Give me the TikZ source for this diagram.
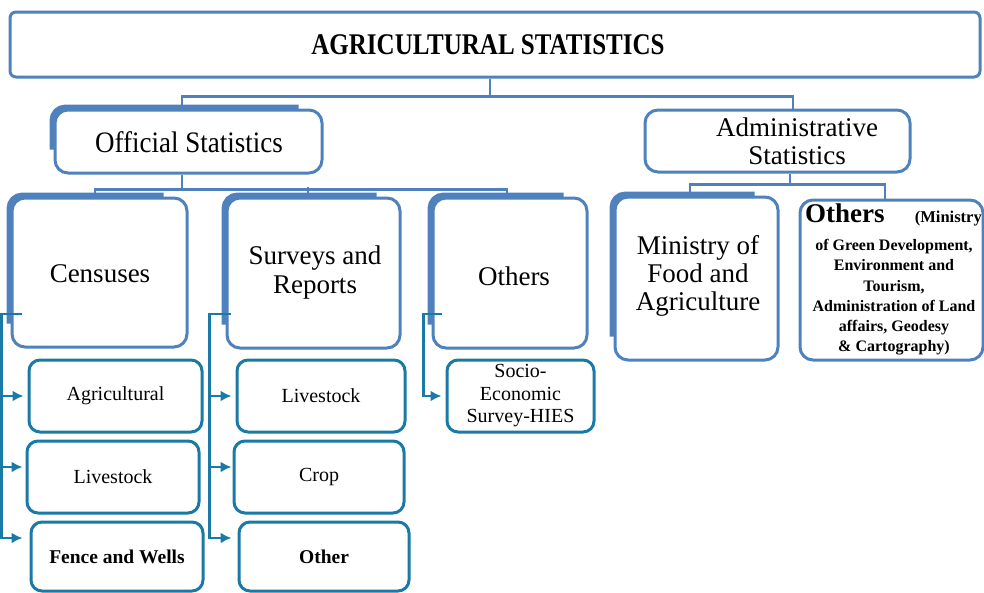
\documentclass[tikz,border=0pt]{standalone}
\usepackage{fontspec}
\setmainfont{Liberation Serif}
\usetikzlibrary{arrows.meta,calc}
\definecolor{bbl}{HTML}{4F81BD}
\definecolor{tl}{HTML}{1B79A5}
\newcommand\fs[2]{\fontsize{#1pt}{#2pt}\selectfont}
\tikzset{
 topbox/.style={draw=bbl, line width=3pt, rounded corners=6pt, fill=white, inner sep=0pt},
 bigbox/.style={draw=bbl, line width=3pt, rounded corners=13pt, fill=white, inner sep=0pt, align=center},
 smallbox/.style={draw=tl, line width=3pt, rounded corners=11pt, fill=white, inner sep=0pt, align=center, font=\fs{20}{22.5}},
 bentline/.style={draw=bbl, line width=5.5pt, rounded corners=13pt},
 conn/.style={draw=bbl, line width=2.5pt},
 tconn/.style={draw=tl, line width=2.5pt},
 tarr/.style={tconn, -{Latex[length=11pt,width=11pt]}},
 txt/.style={inner sep=0pt, align=center},
}
\newcommand\bentedge[1]{\draw[bentline] ([xshift=-1.2pt,yshift=25pt]#1.south west) -- ([xshift=-1.2pt,yshift=1.2pt]#1.north west) -- ([xshift=-25pt,yshift=1.2pt]#1.north east);}
\begin{document}
\begin{tikzpicture}[x=1pt,y=-1pt]
\useasboundingbox (0,0) rectangle (984,592);
% top level
\node[topbox, minimum width=970pt, minimum height=65pt] (top) at (495,44.5) {};
\node[txt, font=\bfseries\fs{25}{25}] (toptxt) at (488,45) {\scalebox{1}[1.2]{AGRICULTURAL STATISTICS}};
% second level
\node[bigbox, minimum width=267pt, minimum height=63pt] (off) at (188.5,141.5) {};
\node[txt, font=\fs{27}{28}] (offtxt) at (189,142) {\scalebox{1}[1.1]{Official Statistics}};
\node[bigbox, minimum width=265pt, minimum height=62pt] (adm) at (777.5,141) {};
\node[txt, font=\fs{27}{28}] (admtxt) at (797,141) {Administrative\\Statistics};
% third level
\node[bigbox, minimum width=175pt, minimum height=149pt] (cen) at (99.5,272.5) {};
\node[txt, font=\fs{27}{29}] (centxt) at (100,274) {Censuses};
\node[bigbox, minimum width=173pt, minimum height=150pt] (sur) at (313.5,273) {};
\node[txt, font=\fs{27}{29}] (surtxt) at (315,273) {Surveys and\\Reports};
\node[bigbox, minimum width=154pt, minimum height=150pt] (oth) at (510,273) {};
\node[txt, font=\fs{27}{29}] (othtxt) at (514,276) {Others};
\node[bigbox, minimum width=163pt, minimum height=163pt] (min) at (696.5,278.5) {};
\node[txt, font=\fs{27}{28}] (mintxt) at (698,276) {Ministry of\\Food and\\Agriculture};
\node[bigbox, minimum width=183pt, minimum height=160pt] (oth2) at (891.5,280) {};
\node[txt, font=\bfseries\fs{27}{27}, anchor=base west] (o2a) at (805,222) {Others};
\node[txt, font=\bfseries\fs{16.5}{16}, anchor=base east] (o2b) at (982,222) {(Ministry};
\node[txt, font=\bfseries\fs{16}{20.3}, anchor=north] (o2c) at (894,239) {of Green Development,\\Environment and\\Tourism,\\Administration of Land\\affairs, Geodesy\\\& Cartography)};
\bentedge{off}
\bentedge{cen}
\bentedge{sur}
\bentedge{oth}
\bentedge{min}
% small boxes
\node[smallbox, minimum width=173pt, minimum height=72pt] (agr) at (115.5,396) {Agricultural};
\node[smallbox, minimum width=172pt, minimum height=72pt] (liv1) at (113,477) {Livestock};
\node[smallbox, minimum width=172pt, minimum height=69pt, font=\bfseries\fs{19.5}{22}] (fen) at (117,556.5) {Fence and Wells};
\node[smallbox, minimum width=168pt, minimum height=72pt] (liv2) at (321,396) {Livestock};
\node[smallbox, minimum width=170pt, minimum height=72pt] (crop) at (319,477) {Crop};
\node[smallbox, minimum width=170pt, minimum height=69pt, font=\bfseries\fs{19.5}{22}] (oth3) at (324,556.5) {Other};
\node[smallbox, minimum width=147pt, minimum height=72pt] (soc) at (520.5,396) {Socio-\\Economic\\Survey-HIES};
% blue connectors
\draw[conn] ([xshift=-5pt]top.south) -- ++(0,18) coordinate (j1);
\draw[conn] ([xshift=-6.5pt]off.north) |- (j1) -| ([xshift=15.5pt]adm.north);
\draw[conn] ([xshift=-6.5pt]off.south) -- ++(0,15) coordinate (j2);
\draw[conn] ([xshift=-4.5pt]cen.north) |- (j2) -| ([xshift=-3pt]oth.north);
\draw[conn] ([xshift=-5.5pt]sur.north) -- ++(0,-10);
\draw[conn] ([xshift=12.5pt]adm.south) -- ++(0,11) coordinate (j3);
\draw[conn] ([xshift=-6.5pt]min.north) |- (j3) -| ([xshift=-6.5pt]oth2.north);
% teal arrows: censuses
\coordinate (c0) at ([xshift=11pt,yshift=-41.5pt]cen.west);
\coordinate (cv) at ([xshift=-20pt]c0);
\coordinate (a1) at ([xshift=-4pt]agr.west);
\coordinate (a2) at ([xshift=-3pt,yshift=10pt]liv1.west);
\coordinate (a3) at ([xshift=-7pt,yshift=18.5pt]fen.west);
\draw[tarr] (c0) -- (cv) |- (a3);
\draw[tarr] (cv |- a1) -- (a1);
\draw[tarr] (cv |- a2) -- (a2);
% surveys
\coordinate (s0) at ([xshift=5pt,yshift=-41pt]sur.west);
\coordinate (sv) at ([xshift=-21pt]s0);
\coordinate (b1) at ([xshift=-4pt]liv2.west);
\coordinate (b2) at ([xshift=-1pt,yshift=10pt]crop.west);
\coordinate (b3) at ([xshift=-6pt,yshift=18.5pt]oth3.west);
\draw[tarr] (s0) -- (sv) |- (b3);
\draw[tarr] (sv |- b1) -- (b1);
\draw[tarr] (sv |- b2) -- (b2);
% others
\coordinate (o0) at ([xshift=10pt,yshift=-41pt]oth.west);
\coordinate (ov) at ([xshift=-18pt]o0);
\coordinate (d1) at ([xshift=-4pt]soc.west);
\draw[tarr] (o0) -- (ov) |- (d1);
\end{tikzpicture}
\end{document}
